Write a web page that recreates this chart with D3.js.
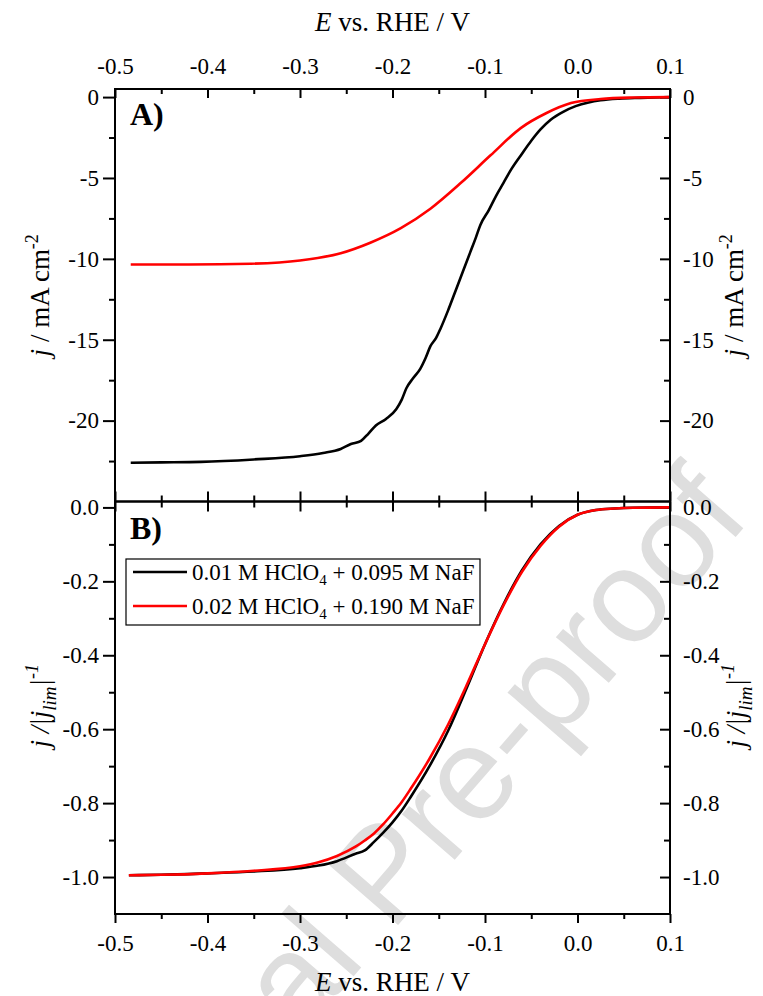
<!DOCTYPE html>
<html>
<head>
<meta charset="utf-8">
<script src="https://cdn.jsdelivr.net/npm/d3@7"></script>
<style>
  body { margin: 0; background: #fff; }
  text { font-family: "Liberation Serif", "Times New Roman", serif; }
</style>
</head>
<body>
<div id="chart"></div>
<script>
let width = 763
let height = 996

// frame of the two stacked panels
let left = 115, right = 670
let topA = 89, midY = 501.5, botB = 914

// tick values
let xTicks = [-0.5, -0.4, -0.3, -0.2, -0.1, 0.0, 0.1]
let xMinor = [-0.45, -0.35, -0.25, -0.15, -0.05, 0.05]
let yTicksA = [0, -5, -10, -15, -20]
let yMinorA = [-2.5, -7.5, -12.5, -17.5, -22.5]
let yTicksB = [0.0, -0.2, -0.4, -0.6, -0.8, -1.0]
let yMinorB = [-0.1, -0.3, -0.5, -0.7, -0.9]

// legend labels
let seriesNames = ["0.01 M HClO|4| + 0.095 M NaF", "0.02 M HClO|4| + 0.190 M NaF"]
let seriesColors = ["#000000", "#ff0000"]

// panel A: current density, mA cm-2
let blackA_E = [-0.483, -0.45, -0.407, -0.35, -0.3, -0.275, -0.256, -0.245, -0.234, -0.226, -0.218, -0.207, -0.196, -0.19, -0.185, -0.178, -0.17, -0.164, -0.159, -0.153, -0.148, -0.14, -0.132, -0.124, -0.116, -0.11, -0.105, -0.096, -0.088, -0.08, -0.072, -0.06, -0.05, -0.04, -0.029, -0.015, -0.002, 0.012, 0.025, 0.045, 0.068, 0.1]
let blackA_j = [-22.6, -22.58, -22.55, -22.4, -22.2, -22.0, -21.75, -21.45, -21.25, -20.8, -20.3, -19.9, -19.3, -18.7, -18.0, -17.4, -16.8, -16.1, -15.4, -14.9, -14.3, -13.2, -12.0, -10.8, -9.6, -8.7, -7.9, -7.0, -6.1, -5.3, -4.5, -3.5, -2.7, -2.0, -1.4, -0.9, -0.56, -0.33, -0.2, -0.1, -0.05, 0.0]
let redA_E = [-0.483, -0.42, -0.353, -0.3, -0.256, -0.224, -0.191, -0.159, -0.126, -0.094, -0.061, -0.034, -0.007, 0.025, 0.06, 0.1]
let redA_j = [-10.35, -10.35, -10.3, -10.1, -9.65, -9.0, -8.1, -6.9, -5.3, -3.6, -1.9, -1.0, -0.37, -0.12, -0.03, 0.0]

// panel B: normalised current j/|jlim|
let potB = [-0.485, -0.45, -0.4, -0.35, -0.3, -0.28, -0.26, -0.24, -0.23, -0.22, -0.21, -0.2, -0.19, -0.18, -0.16, -0.14, -0.12, -0.1, -0.08, -0.06, -0.04, -0.02, 0.0, 0.02, 0.04, 0.06, 0.1]
let blackB_v = [-0.995, -0.994, -0.99, -0.985, -0.976, -0.969, -0.957, -0.937, -0.928, -0.905, -0.88, -0.852, -0.82, -0.782, -0.70, -0.605, -0.49, -0.37, -0.262, -0.17, -0.1, -0.05, -0.02, -0.007, -0.003, -0.001, 0.0]
let redB_v = [-0.995, -0.994, -0.99, -0.983, -0.971, -0.96, -0.943, -0.918, -0.901, -0.882, -0.857, -0.828, -0.797, -0.76, -0.68, -0.588, -0.482, -0.37, -0.265, -0.174, -0.104, -0.052, -0.02, -0.007, -0.003, -0.001, 0.0]

let svg = d3.select("#chart").append("svg")
  .attr("width", width)
  .attr("height", height)

// watermark behind everything
svg.append("text")
  .attr("transform", "translate(752,518) rotate(-49)")
  .attr("text-anchor", "end")
  .style("font-family", "'Liberation Sans', Arial, sans-serif")
  .style("font-size", "132px")
  .attr("fill", "#dedede")
  .text("Journal Pre-proof")

let x = d3.scaleLinear([-0.5, 0.1], [left, right])
let yA = d3.scaleLinear([-25, 0.5], [midY, topA])
let yB = d3.scaleLinear([-1.1, 0.016], [botB, midY])

let fmt1 = d => d3.format(".1f")(d).replace("\u2212", "-")
let fmt0 = d => d3.format("d")(d).replace("\u2212", "-")

function addAxis(axis, tx, ty) {
  let g = svg.append("g")
    .attr("transform", "translate(" + tx + "," + ty + ")")
    .call(axis)
    .attr("font-family", "Liberation Serif")
    .attr("font-size", 23)
  g.select(".domain").remove()
  g.selectAll("line").attr("stroke", "#000").attr("stroke-width", 2)
  g.selectAll("text").attr("fill", "#000")
  return g
}

// top axis of panel A (ticks inward, labels above)
addAxis(d3.axisTop(x).tickValues(xTicks).tickSizeInner(-9).tickSizeOuter(0).tickPadding(15).tickFormat(fmt1), 0, topA)
addAxis(d3.axisTop(x).tickValues(xMinor).tickSizeInner(-5).tickSizeOuter(0).tickFormat(""), 0, topA)

// shared middle line: ticks both ways
addAxis(d3.axisBottom(x).tickValues(xTicks).tickSize(10).tickFormat(""), 0, midY)
addAxis(d3.axisBottom(x).tickValues(xMinor).tickSize(6).tickFormat(""), 0, midY)
addAxis(d3.axisTop(x).tickValues(xTicks).tickSize(10).tickFormat(""), 0, midY)
addAxis(d3.axisTop(x).tickValues(xMinor).tickSize(6).tickFormat(""), 0, midY)

// bottom axis of panel B
addAxis(d3.axisBottom(x).tickValues(xTicks).tickSize(9).tickPadding(12).tickFormat(fmt1), 0, botB)
addAxis(d3.axisBottom(x).tickValues(xMinor).tickSize(5).tickFormat(""), 0, botB)

// panel A y axes
addAxis(d3.axisLeft(yA).tickValues(yTicksA).tickSize(12).tickPadding(4).tickFormat(fmt0), left, 0)
addAxis(d3.axisLeft(yA).tickValues(yMinorA).tickSize(6).tickFormat(""), left, 0)
addAxis(d3.axisRight(yA).tickValues(yTicksA).tickSizeInner(-10).tickPadding(13).tickFormat(fmt0), right, 0)
addAxis(d3.axisRight(yA).tickValues(yMinorA).tickSizeInner(-6).tickFormat(""), right, 0)

// panel B y axes
addAxis(d3.axisLeft(yB).tickValues(yTicksB).tickSize(12).tickPadding(4).tickFormat(fmt1), left, 0)
addAxis(d3.axisLeft(yB).tickValues(yMinorB).tickSize(6).tickFormat(""), left, 0)
addAxis(d3.axisRight(yB).tickValues(yTicksB).tickSizeInner(-10).tickPadding(13).tickFormat(fmt1), right, 0)
addAxis(d3.axisRight(yB).tickValues(yMinorB).tickSizeInner(-6).tickFormat(""), right, 0)

// curves
let lineA = d3.line().x(d => x(d[0])).y(d => yA(d[1])).curve(d3.curveMonotoneX)
let lineB = d3.line().x(d => x(d[0])).y(d => yB(d[1])).curve(d3.curveMonotoneX)

let curves = [
  { line: lineA, E: blackA_E, v: blackA_j, c: seriesColors[0] },
  { line: lineA, E: redA_E, v: redA_j, c: seriesColors[1] },
  { line: lineB, E: potB, v: blackB_v, c: seriesColors[0] },
  { line: lineB, E: potB, v: redB_v, c: seriesColors[1] }
]
svg.selectAll(".curve")
  .data(curves)
  .enter()
  .append("path")
  .attr("class", "curve")
  .attr("d", d => d.line(d.E.map((e, i) => [e, d.v[i]])))
  .attr("fill", "none")
  .attr("stroke", d => d.c)
  .attr("stroke-width", 2.6)

// frames
svg.append("rect").attr("x", left).attr("y", topA).attr("width", right - left).attr("height", midY - topA)
  .attr("fill", "none").attr("stroke", "#000").attr("stroke-width", 2)
svg.append("rect").attr("x", left).attr("y", midY).attr("width", right - left).attr("height", botB - midY)
  .attr("fill", "none").attr("stroke", "#000").attr("stroke-width", 2)

// panel labels
svg.append("text").attr("x", 130).attr("y", 125).style("font-size", "32px").style("font-weight", "bold").text("A)")
svg.append("text").attr("x", 130).attr("y", 539).style("font-size", "32px").style("font-weight", "bold").text("B)")

// axis titles
function xTitle(yPos) {
  let t = svg.append("text").attr("x", (left + right) / 2).attr("y", yPos)
    .attr("text-anchor", "middle").style("font-size", "27px")
  t.append("tspan").style("font-style", "italic").text("E")
  t.append("tspan").text(" vs. RHE / V")
}
xTitle(31)
xTitle(991)

function yTitleA(xPos) {
  let t = svg.append("text").attr("transform", "translate(" + xPos + "," + (topA + midY) / 2 + ") rotate(-90)")
    .attr("text-anchor", "middle").style("font-size", "27px")
  t.append("tspan").style("font-style", "italic").text("j")
  t.append("tspan").text(" / mA cm")
  t.append("tspan").attr("dy", -11).style("font-size", "18px").text("-2")
}
yTitleA(49)
yTitleA(743)

function yTitleB(xPos) {
  let t = svg.append("text").attr("transform", "translate(" + xPos + "," + ((midY + botB) / 2 - 2) + ") rotate(-90)")
    .attr("text-anchor", "middle").style("font-size", "27px").style("font-style", "italic")
  t.append("tspan").text("j /|j")
  t.append("tspan").attr("dy", 7).style("font-size", "19px").text("lim")
  t.append("tspan").attr("dy", -7).text("|")
  t.append("tspan").attr("dy", -11).style("font-size", "18px").text("-1")
}
yTitleB(49)
yTitleB(745)

// legend
let legend = svg.append("g")
legend.append("rect").attr("x", 126).attr("y", 559).attr("width", 354).attr("height", 66)
  .attr("fill", "#fff").attr("stroke", "#000").attr("stroke-width", 1.2)
let legendY = [572, 606]
seriesNames.forEach((name, i) => {
  legend.append("line").attr("x1", 133).attr("x2", 187).attr("y1", legendY[i]).attr("y2", legendY[i])
    .attr("stroke", seriesColors[i]).attr("stroke-width", 2.6)
  let parts = name.split("|")
  let t = legend.append("text").attr("x", 192).attr("y", legendY[i] + 8).style("font-size", "23px")
  t.append("tspan").text(parts[0])
  t.append("tspan").attr("dy", 5).style("font-size", "15px").text(parts[1])
  t.append("tspan").attr("dy", -5).text(parts[2])
})
</script>
</body>
</html>
